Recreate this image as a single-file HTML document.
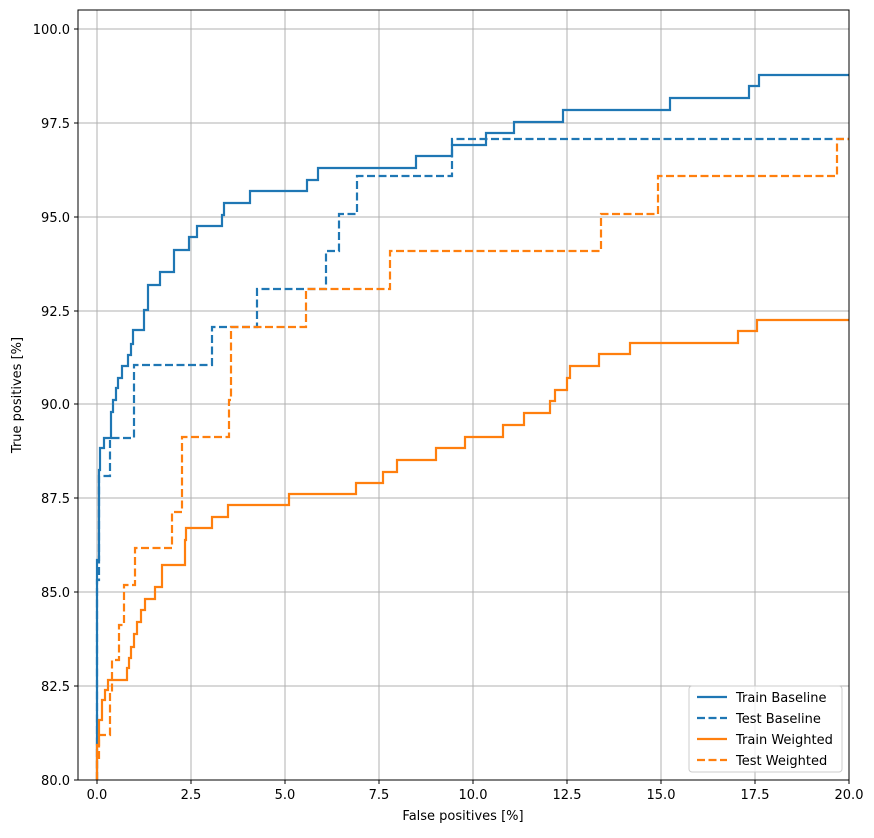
<!DOCTYPE html>
<html><head><style>body{margin:0;background:#fff}svg text{font-family:"DejaVu Sans","Liberation Sans",sans-serif;font-size:13px;fill:#000}</style></head><body>
<svg width="874" height="833" xmlns="http://www.w3.org/2000/svg">
<g stroke="#b0b0b0" stroke-width="1">
<line x1="97" y1="10" x2="97" y2="780"/><line x1="191" y1="10" x2="191" y2="780"/><line x1="285" y1="10" x2="285" y2="780"/><line x1="379" y1="10" x2="379" y2="780"/><line x1="473" y1="10" x2="473" y2="780"/><line x1="567" y1="10" x2="567" y2="780"/><line x1="661" y1="10" x2="661" y2="780"/><line x1="755" y1="10" x2="755" y2="780"/>
<line x1="78" y1="686" x2="849" y2="686"/><line x1="78" y1="592" x2="849" y2="592"/><line x1="78" y1="498" x2="849" y2="498"/><line x1="78" y1="404" x2="849" y2="404"/><line x1="78" y1="311" x2="849" y2="311"/><line x1="78" y1="217" x2="849" y2="217"/><line x1="78" y1="123" x2="849" y2="123"/><line x1="78" y1="29" x2="849" y2="29"/>
</g>
<g fill="none" stroke-width="2.2">
<path stroke="#1f77b4" d="M97 780 V560 H99 V470 H100 V448 H104 V438 H111 V412 H113 V400 H116 V388 H118 V378 H122 V366 H128 V355 H131 V344 H133 V330 H144 V310 H148 V285 H160 V272 H174 V250 H189 V237 H197 V226 H222 V215 H224 V203 H250 V191 H307 V180 H318 V168 H416 V156 H452 V145 H486 V133 H514 V122 H563 V110 H670 V98 H749 V86 H759 V75 H849"/>
<path stroke="#1f77b4" stroke-dasharray="8,3.5" d="M97 780 V580 H99 V476 H110 V438 H134 V365 H212 V327 H257 V289 H326 V251 H339 V214 H357 V176 H452 V139 H849"/>
<path stroke="#ff7f0e" d="M97 780 V745 H99 V720 H102 V700 H105 V690 H108 V680 H127 V668 H129 V658 H131 V647 H134 V634 H137 V622 H141 V610 H145 V599 H155 V587 H162 V565 H185 V540 H186 V528 H212 V517 H228 V505 H289 V494 H356 V483 H383 V472 H397 V460 H436 V448 H465 V437 H503 V425 H524 V413 H550 V401 H555 V390 H567 V378 H570 V366 H599 V354 H630 V343 H738 V331 H757 V320 H849"/>
<path stroke="#ff7f0e" stroke-dasharray="8,3.5" d="M97 780 V760 H99 V735 H110 V692 H112 V660 H119 V625 H124 V585 H135 V548 H172 V512 H182 V437 H229 V400 H231 V327 H306 V289 H390 V251 H601 V214 H658 V176 H837 V139 H849"/>
</g>
<rect x="78" y="10" width="771" height="770" fill="none" stroke="#000" stroke-width="1"/>
<g stroke="#000"><line x1="97" y1="780" x2="97" y2="784"/><line x1="191" y1="780" x2="191" y2="784"/><line x1="285" y1="780" x2="285" y2="784"/><line x1="379" y1="780" x2="379" y2="784"/><line x1="473" y1="780" x2="473" y2="784"/><line x1="567" y1="780" x2="567" y2="784"/><line x1="661" y1="780" x2="661" y2="784"/><line x1="755" y1="780" x2="755" y2="784"/><line x1="849" y1="780" x2="849" y2="784"/>
<line x1="74" y1="780" x2="78" y2="780"/><line x1="74" y1="686" x2="78" y2="686"/><line x1="74" y1="592" x2="78" y2="592"/><line x1="74" y1="498" x2="78" y2="498"/><line x1="74" y1="404" x2="78" y2="404"/><line x1="74" y1="311" x2="78" y2="311"/><line x1="74" y1="217" x2="78" y2="217"/><line x1="74" y1="123" x2="78" y2="123"/><line x1="74" y1="29" x2="78" y2="29"/></g>
<g text-anchor="middle"><text x="97" y="799">0.0</text><text x="191" y="799">2.5</text><text x="285" y="799">5.0</text><text x="379" y="799">7.5</text><text x="473" y="799">10.0</text><text x="567" y="799">12.5</text><text x="661" y="799">15.0</text><text x="755" y="799">17.5</text><text x="849" y="799">20.0</text>
<text x="463" y="820">False positives [%]</text>
<text transform="translate(21,395) rotate(-90)">True positives [%]</text></g>
<g text-anchor="end"><text x="70" y="785">80.0</text><text x="70" y="691">82.5</text><text x="70" y="597">85.0</text><text x="70" y="503">87.5</text><text x="70" y="409">90.0</text><text x="70" y="316">92.5</text><text x="70" y="222">95.0</text><text x="70" y="128">97.5</text><text x="70" y="34">100.0</text></g>
<rect x="689" y="686" width="153" height="86" rx="3" fill="#fff" fill-opacity="0.8" stroke="#ccc"/>
<g fill="none" stroke-width="2.2"><line x1="697" y1="697" x2="727" y2="697" stroke="#1f77b4"/><line x1="697" y1="718" x2="727" y2="718" stroke="#1f77b4" stroke-dasharray="8,3.5"/><line x1="697" y1="739" x2="727" y2="739" stroke="#ff7f0e"/><line x1="697" y1="760" x2="727" y2="760" stroke="#ff7f0e" stroke-dasharray="8,3.5"/></g>
<text x="736" y="702">Train Baseline</text><text x="736" y="723">Test Baseline</text><text x="736" y="744">Train Weighted</text><text x="736" y="765">Test Weighted</text>
</svg></body></html>
